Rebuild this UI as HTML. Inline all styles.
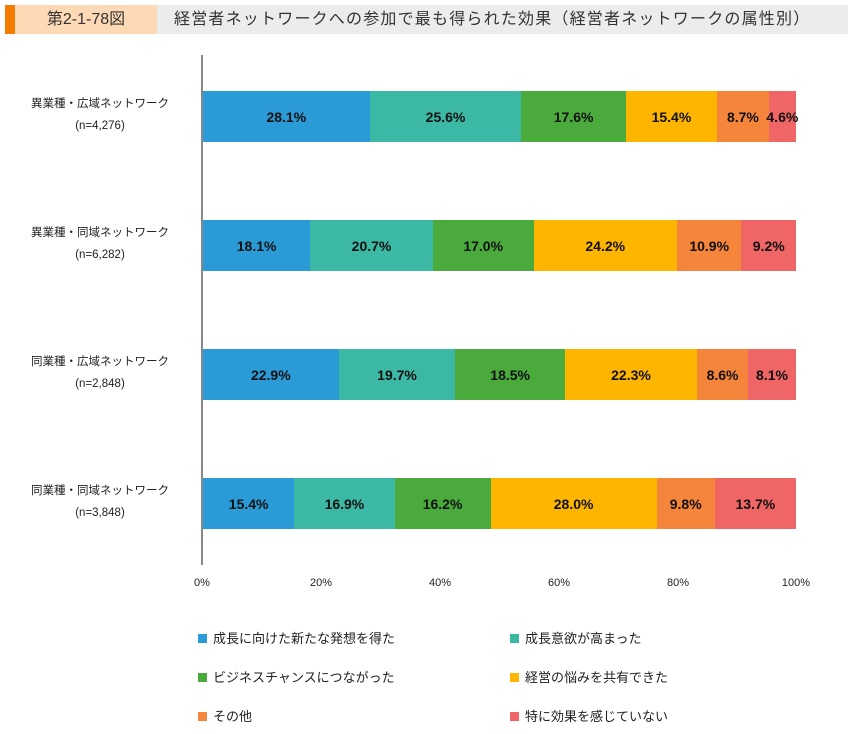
<!DOCTYPE html>
<html><head><meta charset="utf-8"><style>
body{margin:0;width:858px;height:734px;background:#fff;font-family:"Liberation Sans","Noto Sans CJK JP",sans-serif;position:relative;overflow:hidden}
.a{position:absolute}
.seg{position:absolute;height:51px;display:flex;align-items:center;justify-content:center;font-weight:bold;font-size:14px;color:#111;white-space:nowrap}
.lab{position:absolute;width:190px;text-align:center;font-size:11.5px;color:#222;line-height:22px}
.tick{position:absolute;top:577px;font-size:11px;color:#222;width:40px;text-align:center}
.leg{position:absolute;font-size:13px;color:#222}
.leg i{display:inline-block;width:9px;height:9px;margin-right:6px;vertical-align:0}
</style></head><body>
<div class="a" style="left:5px;top:5px;width:10px;height:29px;background:#f47c00"></div>
<div class="a" style="left:15px;top:5px;width:142px;height:29px;background:#fdd9b5;font-size:16px;line-height:29px;text-align:center;color:#333">第2-1-78図</div>
<div class="a" style="left:157px;top:5px;width:691px;height:29px;background:#ececec;font-size:16px;line-height:29px;color:#333;padding-left:17px;box-sizing:border-box;letter-spacing:1.2px">経営者ネットワークへの参加で最も得られた効果（経営者ネットワークの属性別）</div>
<div class="a" style="left:201px;top:55px;width:2px;height:510px;background:#888"></div>
<div id="c"></div>
<div class="tick" style="left:182px">0%</div>
<div class="tick" style="left:301px">20%</div>
<div class="tick" style="left:420px">40%</div>
<div class="tick" style="left:539px">60%</div>
<div class="tick" style="left:658px">80%</div>
<div class="tick" style="left:776px">100%</div>
<div class="leg" style="left:198px;top:628px"><i style="background:#2a9bd6"></i>成長に向けた新たな発想を得た</div>
<div class="leg" style="left:510px;top:628px"><i style="background:#3cb9a5"></i>成長意欲が高まった</div>
<div class="leg" style="left:198px;top:667px"><i style="background:#4aaa3c"></i>ビジネスチャンスにつながった</div>
<div class="leg" style="left:510px;top:667px"><i style="background:#fdb500"></i>経営の悩みを共有できた</div>
<div class="leg" style="left:198px;top:706px"><i style="background:#f4853a"></i>その他</div>
<div class="leg" style="left:510px;top:706px"><i style="background:#f06565"></i>特に効果を感じていない</div>
<script>
var cols=["#2a9bd6","#3cb9a5","#4aaa3c","#fdb500","#f4853a","#f06565"];
var rows=[["異業種・広域ネットワーク","(n=4,276)",[28.1,25.6,17.6,15.4,8.7,4.6],91],
["異業種・同域ネットワーク","(n=6,282)",[18.1,20.7,17.0,24.2,10.9,9.2],220],
["同業種・広域ネットワーク","(n=2,848)",[22.9,19.7,18.5,22.3,8.6,8.1],349],
["同業種・同域ネットワーク","(n=3,848)",[15.4,16.9,16.2,28.0,9.8,13.7],478]];
var h="";
rows.forEach(function(r){
 var tot=r[2].reduce(function(a,b){return a+b},0),c=0;
 h+='<div class="lab" style="left:5px;top:'+(r[3]+2)+'px">'+r[0]+'<br>'+r[1]+'</div>';
 r[2].forEach(function(v,i){
  var x0=203+593*c/tot;c+=v;var x1=203+593*c/tot;
  h+='<div class="seg" style="left:'+x0+'px;width:'+(x1-x0)+'px;top:'+r[3]+'px;background:'+cols[i]+'">'+v.toFixed(1)+'%</div>';
 });
});
document.getElementById("c").innerHTML=h;
</script>
</body></html>
